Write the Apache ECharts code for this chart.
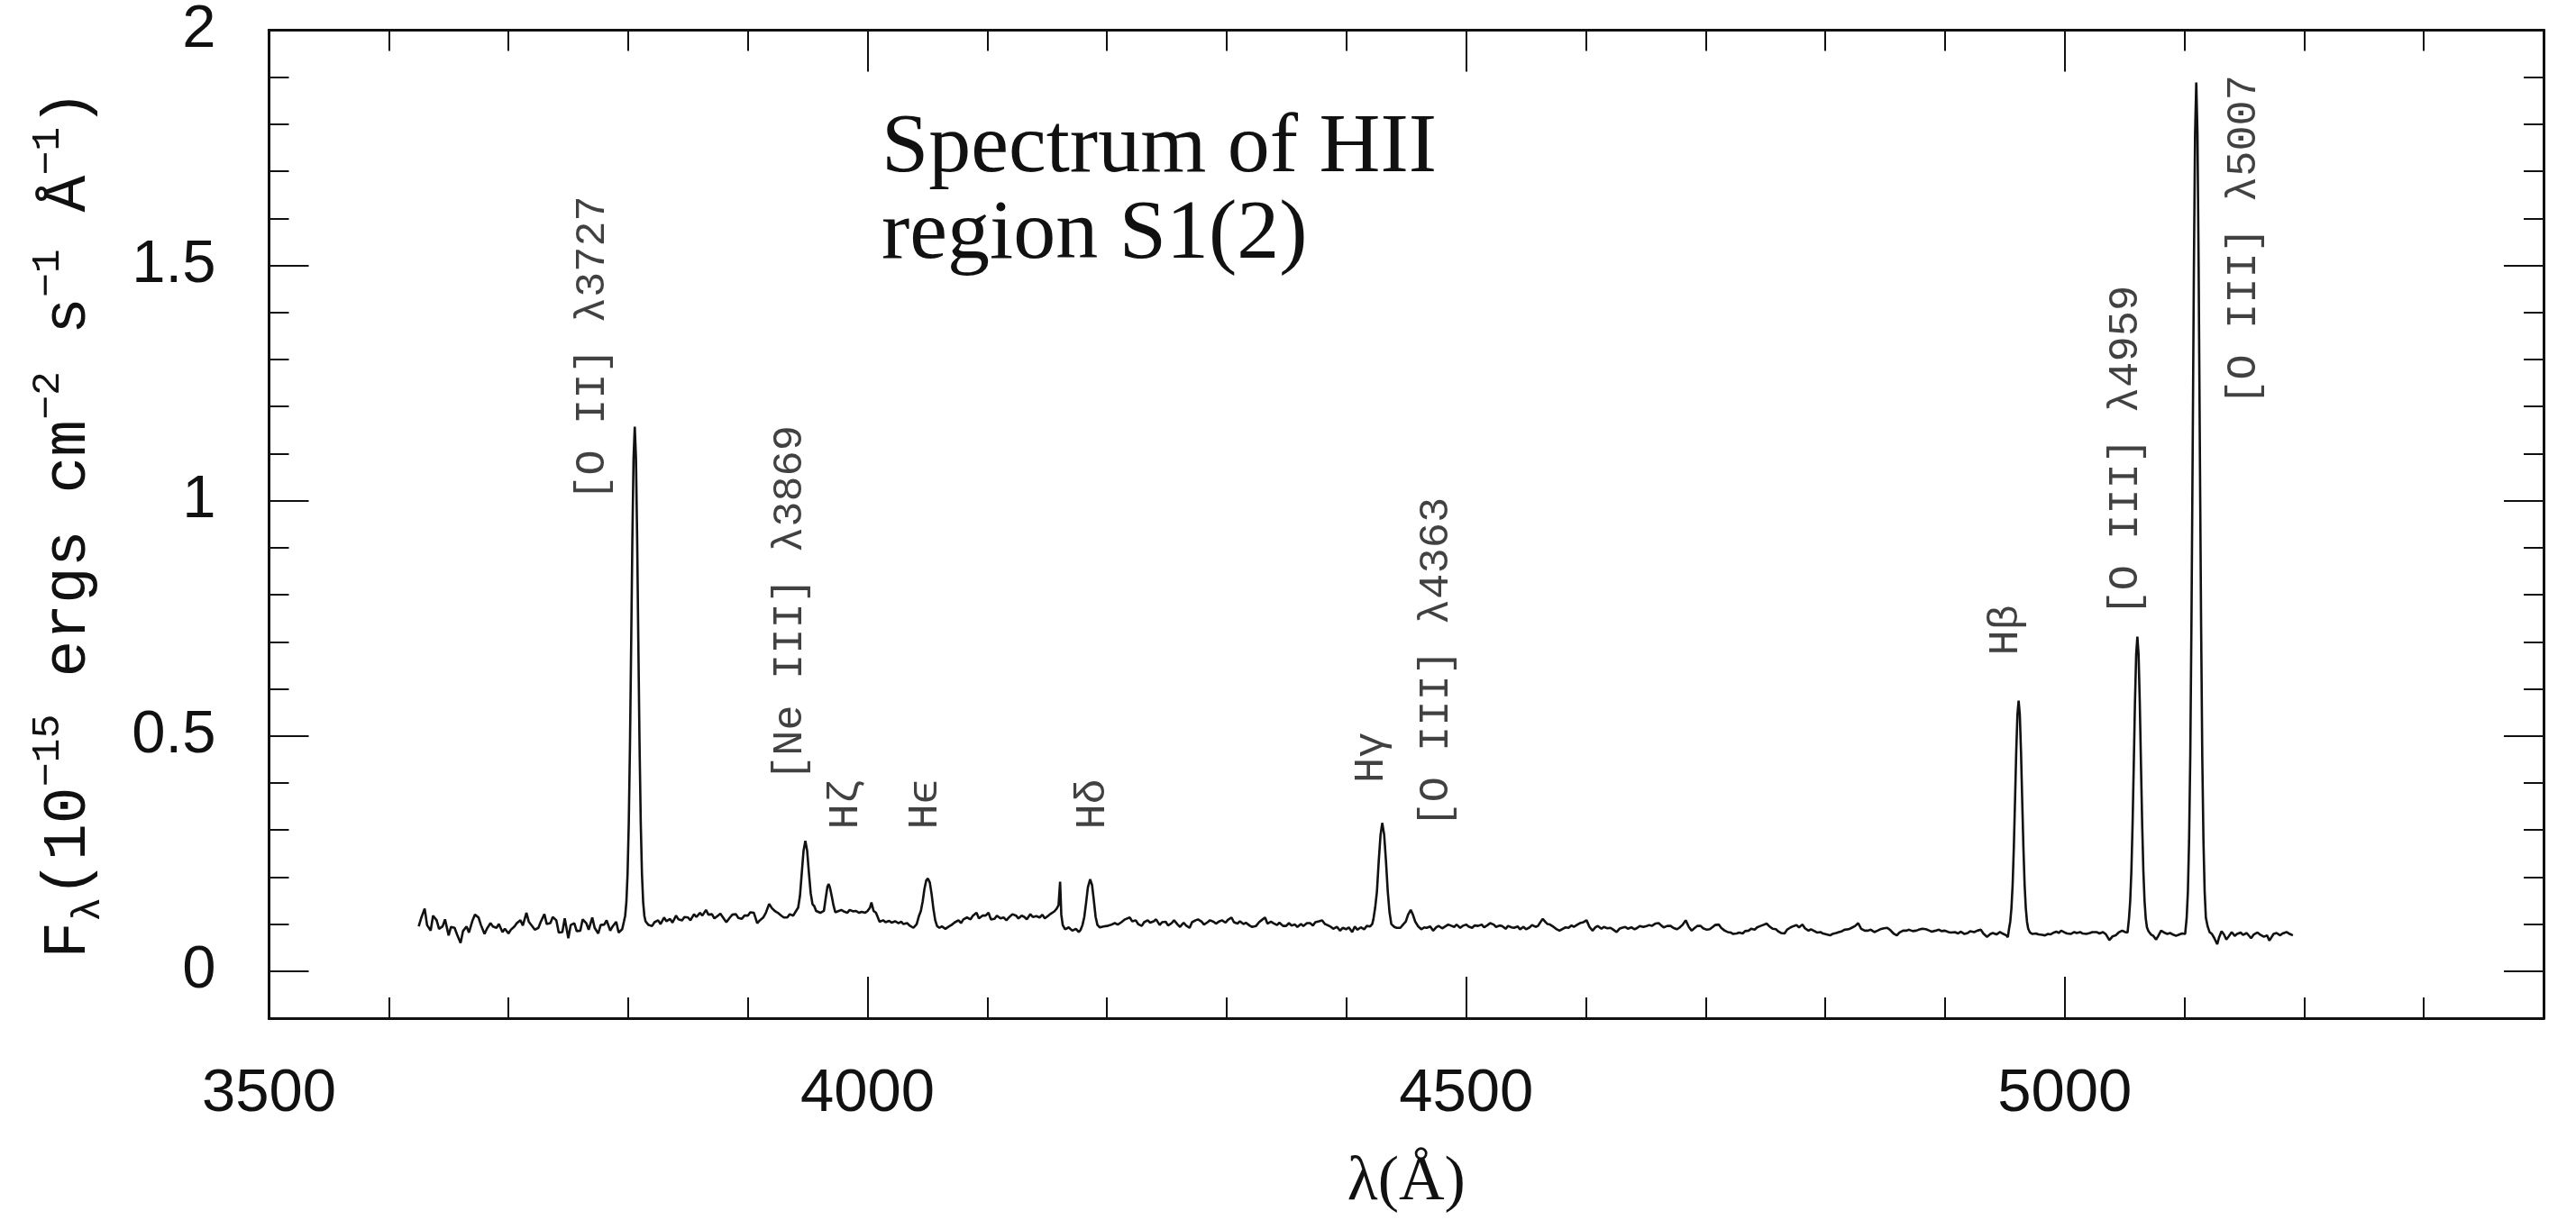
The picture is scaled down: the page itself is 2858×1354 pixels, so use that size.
<!DOCTYPE html>
<html><head><meta charset="utf-8">
<script src="https://cdn.jsdelivr.net/npm/echarts@6/dist/echarts.min.js"></script>
<style>html,body{margin:0;padding:0;background:#fff}#c{width:2858px;height:1354px}</style>
</head><body><div id="c"></div>
<script>
// Spectrum of HII region S1(2): [wavelength (Å), flux (1e-15 erg cm^-2 s^-1 Å^-1)]
const spectrumBlue = [
[3625,0.095],[3627,0.112],[3630,0.133],[3632,0.098],[3635,0.086],[3637,0.118],[3640,0.108],[3642,0.090],[3645,0.095],[3647,0.110],[3650,0.076],[3652,0.094],[3655,0.092],[3657,0.078],[3660,0.060],[3662,0.085],[3665,0.095],[3667,0.082],[3670,0.108],[3672,0.120],[3675,0.114],[3677,0.098],[3680,0.079],[3682,0.090],[3685,0.102],[3687,0.095],[3690,0.092],[3692,0.100],[3695,0.083],[3697,0.090],[3700,0.080],[3702,0.088],[3705,0.095],[3707,0.102],[3710,0.108],[3712,0.097],[3715,0.124],[3717,0.105],[3720,0.095],[3722,0.088],[3725,0.092],[3727,0.105],[3730,0.121],[3732,0.100],[3735,0.102],[3737,0.115],[3740,0.108],[3742,0.082],[3745,0.083],[3747,0.112],[3750,0.070],[3752,0.098],[3755,0.102],[3757,0.085],[3760,0.086],[3762,0.110],[3765,0.102],[3767,0.088],[3770,0.114],[3772,0.092],[3775,0.080],[3777,0.098],[3780,0.099],[3782,0.108],[3785,0.086],[3787,0.095],[3790,0.105],[3792,0.082],[3795,0.089],
[3796.5,0.106],[3797.5,0.118],[3798.5,0.147],[3799.5,0.207],[3800.5,0.315],[3801.5,0.481],[3802.5,0.695],[3803.5,0.919],[3804.5,1.091],[3805.5,1.157],[3806.5,1.091],[3807.5,0.919],[3808.5,0.695],[3809.5,0.481],[3810.5,0.315],[3811.5,0.207],[3812.5,0.147],[3813.5,0.118],[3814.5,0.106],
[3817,0.098],[3820,0.096],[3822,0.104],[3825,0.108],[3827,0.100],[3830,0.114],[3832,0.106],[3835,0.111],[3837,0.103],[3840,0.118],[3842,0.110],[3845,0.108],[3847,0.115],[3850,0.114],[3852,0.108],[3855,0.121],[3857,0.115],[3860,0.124],[3862,0.118],[3865,0.130],[3867,0.120],[3870,0.121],[3872,0.112],[3875,0.118],[3877,0.122],[3880,0.111],[3882,0.104],[3885,0.114],[3887,0.120],[3890,0.121],[3892,0.113],[3895,0.111],[3897,0.118],[3900,0.118],[3902,0.125],[3905,0.124]
];
const spectrumMid = [
[3907.8,0.102],[3910,0.108],[3912.8,0.114],[3915,0.124],[3917.8,0.143],[3920,0.134],[3922.9,0.127],[3925,0.124],[3927.9,0.118],[3930,0.114],[3932.9,0.114],[3935,0.121],[3937.9,0.118],[3940,0.127],[3941,0.125],[3942,0.135],[3943.5,0.160],[3945,0.208],[3946.5,0.256],[3948,0.277],[3949.5,0.256],[3951,0.208],[3952.5,0.165],[3954,0.142],[3955.5,0.138],[3957,0.128],[3958.5,0.130],[3960.5,0.124],[3962,0.122],[3963.5,0.128],[3965,0.155],[3966.5,0.180],[3967.5,0.185],[3968.5,0.178],[3970,0.160],[3971.5,0.140],[3973,0.125],[3974.5,0.126],[3976,0.128],[3978,0.130],[3980,0.127],[3983,0.124],[3985,0.130],[3988,0.127],[3990,0.128],[3993,0.124],[3995,0.126],[3998,0.124],[4000,0.128],[4002,0.135],[4003.2,0.146],[4005,0.128],[4007,0.124],[4010,0.105],[4013,0.108],[4015,0.104],[4018,0.107],[4020,0.103],[4023,0.106],[4025.8,0.102],[4028,0.105],[4030,0.100],[4033,0.102],[4035,0.097],[4038.3,0.092],[4041,0.100],[4043,0.118],[4044.5,0.128],[4046,0.148],[4047.5,0.175],[4049,0.193],[4050.4,0.197],[4052,0.188],[4053.5,0.163],[4055,0.132],[4056.5,0.108],[4058,0.096],[4060,0.092],[4062,0.095],[4065,0.090],[4068,0.095],[4070,0.098],[4073,0.104],[4076,0.108],[4078,0.102],[4080,0.110],[4083,0.114],[4086,0.110],[4088,0.118],[4091,0.124],[4093,0.112],[4096,0.118],[4098.6,0.118],[4101,0.124],[4103,0.110],[4106,0.111],[4108,0.118],[4111,0.112],[4113.6,0.114],[4116,0.108],[4118,0.114],[4121,0.121],[4124,0.118],[4126,0.112],[4128.7,0.118],[4131,0.115],[4133,0.110],[4136,0.121],[4138,0.115],[4141,0.117],[4143.7,0.114],[4146,0.120],[4148,0.112],[4151,0.118],[4153,0.122],[4156,0.127],[4158,0.133],[4159.5,0.140],[4160.8,0.190],[4161.8,0.120],[4163,0.098],[4165,0.089],[4168,0.093],[4171,0.086],[4174,0.090],[4176.4,0.083],[4178,0.088],[4179.5,0.098],[4181,0.115],[4182.5,0.145],[4184,0.178],[4185.9,0.195],[4187.5,0.183],[4189,0.150],[4190.5,0.115],[4192,0.098],[4194,0.093],[4197,0.095],[4200,0.096],[4203,0.098],[4206.5,0.102],[4209,0.099],
[4212,0.104],[4215,0.110],[4219,0.114],[4221,0.106],[4224,0.108],[4226,0.100],[4229,0.096],[4231,0.104],[4234,0.108],[4236,0.103],[4239,0.106],[4241,0.110],[4244,0.098],[4246,0.104],[4249,0.105],[4251,0.097],[4254,0.102],[4256,0.108],[4259,0.099],[4261,0.094],[4264,0.103],[4266,0.097],[4269,0.092],[4271,0.104],[4274,0.108],[4276,0.110],[4279,0.105],[4281,0.099],[4284,0.104],[4286,0.108],[4289,0.105],[4291,0.101],[4294,0.106],[4296,0.108],[4299,0.103],[4301,0.109],[4304,0.114],[4306,0.104],[4309,0.101],[4311,0.106],[4314,0.100],[4316,0.103],[4319,0.097],[4321,0.094],[4324.5,0.096],[4327,0.104],[4329,0.108],[4332,0.114],[4334,0.101],[4337,0.105],[4339,0.102],[4342,0.098],[4344,0.103],[4347,0.096],[4349.6,0.096],[4352,0.102],[4354,0.097],[4357,0.099],[4359,0.094],[4362,0.100],[4364,0.096],[4367,0.102],[4369.6,0.102],[4372,0.097],[4374,0.104],[4377,0.106],[4379.7,0.108],[4382,0.100],[4384,0.098],[4387,0.094],[4389,0.090],[4392,0.094],[4394.7,0.086],[4397,0.092],[4399.7,0.089],[4402,0.093],[4404.8,0.083],[4407,0.095],[4409,0.088],[4412,0.093],[4414.8,0.089],[4417,0.096],[4419.8,0.095],[4421.5,0.100],[4422.5,0.110],[4424,0.135],[4425.5,0.170],[4427,0.235],[4428.5,0.290],[4429.9,0.315],[4431.5,0.290],[4433,0.235],[4434.5,0.170],[4436,0.125],[4437.5,0.100],[4440,0.094],[4442,0.092],[4445,0.092],[4447,0.098],[4449.5,0.105],[4451.5,0.120],[4453.7,0.130],[4455.5,0.120],[4457.5,0.105],[4460,0.095],[4462.5,0.089],[4465,0.093],[4467,0.092],[4470,0.095],[4472.5,0.086],[4475,0.093],[4477,0.096],[4480,0.091],[4482,0.094],[4485,0.099],[4487,0.097],[4490,0.094],[4492,0.099],[4495,0.092],[4497,0.096],[4500,0.099],[4502,0.095],[4505,0.092],[4507,0.097],[4510,0.096]
];
const spectrumRed = [
[4513,0.099],[4515,0.093],[4518,0.098],[4520,0.102],[4523,0.099],[4525,0.094],[4528,0.097],[4530,0.096],[4533,0.090],[4535,0.096],[4538,0.093],[4540,0.092],[4543,0.095],[4545,0.089],[4548,0.094],[4550,0.089],[4553,0.093],[4555,0.098],[4558,0.094],[4560,0.096],[4562,0.104],[4564,0.111],[4566,0.105],[4568,0.100],[4570,0.099],[4573,0.094],[4575,0.090],[4578,0.086],[4580,0.089],[4583,0.093],[4585.5,0.092],[4588,0.097],[4590,0.094],[4593,0.099],[4595,0.102],[4598,0.104],[4600.6,0.108],[4603,0.094],[4605.6,0.086],[4608,0.093],[4610,0.096],[4613,0.090],[4615,0.094],[4618,0.091],[4620.6,0.092],[4623,0.088],[4625.7,0.083],[4628,0.090],[4630,0.092],[4633,0.094],[4635,0.090],[4638,0.093],[4640.7,0.089],[4643,0.092],[4645,0.096],[4648,0.094],[4650.8,0.096],[4653,0.098],[4655,0.096],[4658,0.101],[4660.8,0.102],[4663,0.097],[4665,0.093],[4668,0.096],[4670.8,0.096],[4673,0.092],[4676,0.089],[4678,0.092],[4681,0.099],[4683.4,0.108],[4686,0.094],[4688.4,0.086],[4691,0.092],[4693,0.096],[4695.9,0.096],[4698,0.091],[4701,0.088],[4703.5,0.089],[4706,0.094],[4708,0.098],[4711,0.099],[4713,0.092],[4716,0.086],[4718.5,0.083],[4721,0.082],[4723,0.079],[4726,0.080],[4728,0.082],[4731,0.080],[4733,0.085],[4736,0.086],[4738,0.090],[4741,0.088],[4743,0.093],[4746,0.096],[4748,0.098],[4751,0.101],[4753,0.096],[4756,0.090],[4758.7,0.089],[4761,0.084],[4763,0.081],[4766,0.080],[4768,0.088],[4771,0.093],[4773.8,0.096],[4776,0.098],[4778,0.093],[4781,0.099],[4783,0.091],[4786,0.086],[4788,0.089],[4791,0.085],[4793,0.082],[4796,0.083],[4798,0.080],[4801,0.078],[4804,0.076],[4806,0.079],[4809,0.081],[4811.4,0.083],
[4814,0.085],[4816,0.088],[4819.5,0.089],[4822,0.092],[4825,0.096],[4827.5,0.102],[4830,0.090],[4833,0.086],[4835.6,0.086],[4838,0.088],[4841,0.083],[4843.6,0.086],[4846,0.089],[4849,0.091],[4851.7,0.092],[4854,0.088],[4857,0.080],[4859.8,0.076],[4862,0.082],[4865,0.086],[4867.9,0.086],[4870,0.088],[4873,0.085],[4876,0.086],[4878,0.088],[4881,0.090],[4884,0.089],[4887,0.086],[4889,0.084],[4892.1,0.086],[4895,0.088],[4897,0.085],[4900,0.086],[4903,0.083],[4905,0.082],[4908.2,0.083],[4911,0.080],[4913,0.084],[4916.3,0.079],[4919,0.081],[4921,0.085],[4924.4,0.083],[4927,0.086],[4930,0.088],[4932,0.080],[4935.1,0.073],[4938,0.079],[4940,0.081],[4943,0.078],[4945.9,0.083],[4948,0.080],[4951.3,0.076],[4952.5,0.072],
[4953.5,0.090],[4954.5,0.105],[4955.5,0.134],[4956.5,0.184],[4957.5,0.263],[4958.5,0.362],[4959.5,0.466],[4960.5,0.545],[4961.5,0.575],[4962.5,0.545],[4963.5,0.466],[4964.5,0.362],[4965.5,0.263],[4966.5,0.184],[4967.5,0.134],[4968.5,0.105],[4969.5,0.090],
[4971,0.082],[4973,0.079],[4976,0.080],[4978,0.078],[4981,0.077],[4983.5,0.076],[4986,0.079],[4988,0.078],[4991,0.082],[4993,0.084],[4995,0.081],[4997,0.086],[5000,0.082],[5002,0.080],[5005,0.079],[5008,0.083],[5010,0.081],[5013,0.083],[5015,0.080],[5018,0.079],[5021,0.081],[5023,0.083],[5026.6,0.083],[5029,0.080],[5032,0.083],[5034.5,0.078],[5037.3,0.066],[5040,0.074],[5042.6,0.076],[5045,0.082],[5048,0.086],[5050.7,0.083],[5052.5,0.082],
[5053.7,0.112],[5054.7,0.149],[5055.7,0.213],[5056.7,0.313],[5057.7,0.440],[5058.7,0.572],[5059.7,0.673],[5060.7,0.711],[5061.7,0.673],[5062.7,0.572],[5063.7,0.440],[5064.7,0.313],[5065.7,0.213],[5066.7,0.149],[5067.7,0.112],[5068.7,0.093],
[5070,0.085],[5072,0.078],[5074,0.075],[5076.3,0.067],[5078,0.074],[5080.5,0.086],[5083,0.082],[5085.7,0.079],[5088,0.081],[5091,0.077],[5093,0.075],[5096,0.078],[5098,0.080],[5100.6,0.079],
[5101.9,0.114],[5102.9,0.169],[5103.9,0.277],[5104.9,0.458],[5105.9,0.748],[5106.9,1.110],[5107.9,1.490],[5108.9,1.780],[5109.9,1.889],[5110.9,1.780],[5111.9,1.490],[5112.9,1.110],[5113.9,0.748],[5114.9,0.458],[5115.9,0.277],[5116.9,0.169],[5117.9,0.114],
[5119.4,0.095],[5121,0.083],[5123,0.079],[5125,0.070],[5127.4,0.057],[5129,0.072],[5131,0.085],[5133,0.078],[5135,0.067],[5137,0.074],[5139.5,0.083],[5142,0.075],[5144,0.079],[5147,0.082],[5149,0.077],[5152,0.081],[5155.7,0.070],[5158,0.078],[5161,0.082],[5163,0.078],[5166.4,0.073],[5169,0.076],[5171,0.065],[5174.5,0.079],[5177,0.081],[5180,0.076],[5182,0.080],[5185.3,0.083],[5188,0.079],[5190.6,0.076]
];

// Line identifications: text, wavelength of label, flux at label start
const lineNames  = ['[O II] λ3727','[Ne III] λ3869','Hζ','Hϵ','Hδ','Hγ','[O III] λ4363','Hβ','[O III] λ4959','[O III] λ5007'];
const lineLambda = [3770, 3935, 3982, 4048, 4188, 4421, 4475, 4951, 5051, 5150];
const lineFlux   = [1.000, 0.404, 0.301, 0.301, 0.301, 0.400, 0.305, 0.671, 0.755, 1.203];

// Axis ticks
const xMajorTicks = [3500, 4000, 4500, 5000];
const xMinorTicks = [3600,3700,3800,3900,4100,4200,4300,4400,4600,4700,4800,4900,5100,5200,5300];
const yMajorTicks = [0, 0.5, 1, 1.5, 2];
const yMinorTicks = [0.1,0.2,0.3,0.4,0.6,0.7,0.8,0.9,1.1,1.2,1.3,1.4,1.6,1.7,1.8,1.9];

const INK = '#111';
const X_MIN = 3500, X_MAX = 5400, Y_MIN = -0.1, Y_MAX = 2.0;

function xAxisDef(pos, ticks, len, withLabels) {
  const ax = {
    type: 'value', gridIndex: 0, position: pos, min: X_MIN, max: X_MAX,
    axisLine: { show: true, onZero: false, lineStyle: { color: INK, width: 3 } },
    axisTick: { show: true, inside: true, length: len, customValues: ticks, lineStyle: { color: INK, width: 2 } },
    axisLabel: { show: false },
    splitLine: { show: false }
  };
  if (withLabels) {
    ax.axisLabel = { show: true, customValues: ticks, formatter: v => String(v), margin: 51,
      fontSize: 67, fontFamily: 'Liberation Sans', color: INK };
    ax.name = 'λ(Å)';
    ax.nameLocation = 'middle';
    ax.nameGap = 148;
    ax.nameTextStyle = { fontSize: 70, fontFamily: 'Liberation Serif', color: INK };
  }
  return ax;
}
function yAxisDef(pos, ticks, len, withLabels) {
  const ax = {
    type: 'value', gridIndex: 0, position: pos, min: Y_MIN, max: Y_MAX,
    axisLine: { show: true, onZero: false, lineStyle: { color: INK, width: 3 } },
    axisTick: { show: true, inside: true, length: len, customValues: ticks, lineStyle: { color: INK, width: 2 } },
    axisLabel: { show: false },
    splitLine: { show: false }
  };
  if (withLabels) {
    ax.axisLabel = { show: true, customValues: ticks, formatter: v => String(v), margin: 59,
      padding: [22, 0, 0, 0], fontSize: 67, fontFamily: 'Liberation Sans', color: INK };
    ax.name = '{n|F}{sub|λ}{n|(10}{sup|−15}{n| ergs cm}{sup|−2}{n| s}{sup|−1}{n| Å}{sup|−1}{n|)}';
    ax.nameLocation = 'middle';
    ax.nameRotate = 90;
    ax.nameGap = 178;
    ax.nameTextStyle = {
      color: INK, fontFamily: 'Liberation Mono', fontSize: 68,
      rich: {
        n:   { fontFamily: 'Liberation Mono', fontSize: 68, lineHeight: 90, color: INK, verticalAlign: 'middle' },
        sup: { fontFamily: 'Liberation Mono', fontSize: 45, lineHeight: 45, color: INK, verticalAlign: 'top' },
        sub: { fontFamily: 'Liberation Mono', fontSize: 45, lineHeight: 45, color: INK, verticalAlign: 'bottom' }
      }
    };
  }
  return ax;
}

const chart = echarts.init(document.getElementById('c'), null, { renderer: 'canvas' });
chart.setOption({
  animation: false,
  backgroundColor: '#fff',
  title: {
    text: 'Spectrum of HII\nregion S1(2)', left: 978, top: 117, padding: 0,
    textStyle: { fontFamily: 'Liberation Serif', fontSize: 94, fontWeight: 'normal', lineHeight: 96, color: INK }
  },
  grid: { left: 298.5, right: 36, top: 29, bottom: 224, containLabel: false },
  xAxis: [
    xAxisDef('bottom', xMajorTicks, 46, true),
    xAxisDef('bottom', xMinorTicks, 23, false),
    xAxisDef('top', xMajorTicks, 46, false),
    xAxisDef('top', xMinorTicks, 23, false)
  ],
  yAxis: [
    yAxisDef('left', yMajorTicks, 44, true),
    yAxisDef('left', yMinorTicks, 22, false),
    yAxisDef('right', yMajorTicks, 44, false),
    yAxisDef('right', yMinorTicks, 22, false)
  ],
  series: [
    {
      type: 'line', xAxisIndex: 0, yAxisIndex: 0,
      data: spectrumBlue.concat(spectrumMid, spectrumRed),
      showSymbol: false, symbol: 'none', smooth: false,
      lineStyle: { color: INK, width: 2.6 }, silent: true
    },
    {
      type: 'scatter', xAxisIndex: 0, yAxisIndex: 0,
      data: lineLambda.map((x, i) => [x, lineFlux[i], lineNames[i]]),
      symbolSize: 1, itemStyle: { color: 'rgba(0,0,0,0)' }, silent: true,
      label: {
        show: true, position: 'inside', rotate: 90, align: 'left', verticalAlign: 'middle',
        formatter: p => p.value[2],
        fontFamily: 'Liberation Mono, DejaVu Sans Mono', fontSize: 47, color: INK
      }
    }
  ]
});
</script></body></html>
